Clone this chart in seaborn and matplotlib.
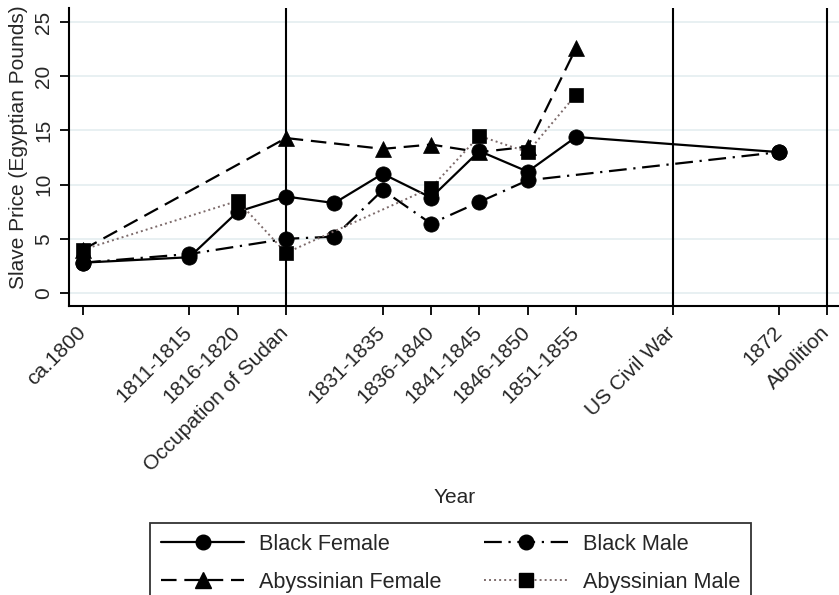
import matplotlib
matplotlib.use("Agg")
import matplotlib.pyplot as plt
import matplotlib.transforms as mtransforms
import seaborn as sns
import pandas as pd
from matplotlib.lines import Line2D

# ---- data ----
tick_years = [1800, 1811, 1816, 1821, 1831, 1836, 1841, 1846, 1851, 1861, 1872, 1877]
tick_labels = ["ca.1800", "1811-1815", "1816-1820", "Occupation of Sudan", "1831-1835",
               "1836-1840", "1841-1845", "1846-1850", "1851-1855", "US Civil War",
               "1872", "Abolition"]
event_years = [1821, 1861, 1877]

bf_years = [1800, 1811, 1816, 1821, 1826, 1831, 1836, 1841, 1846, 1851, 1872]
bf_price = [2.8, 3.3, 7.5, 8.9, 8.3, 11.0, 8.8, 13.1, 11.2, 14.4, 13.0]
bm_years = [1800, 1811, 1821, 1826, 1831, 1836, 1841, 1846, 1872]
bm_price = [2.8, 3.6, 5.0, 5.2, 9.5, 6.4, 8.4, 10.4, 13.0]
af_years = [1800, 1821, 1831, 1836, 1841, 1846, 1851]
af_price = [4.0, 14.3, 13.3, 13.7, 13.0, 13.5, 22.6]
am_years = [1800, 1816, 1821, 1836, 1841, 1846, 1851]
am_price = [4.0, 8.5, 3.7, 9.7, 14.5, 13.0, 18.3]

sns.set_theme(style="white")
plt.rcParams["font.family"] = ["Liberation Sans", "DejaVu Sans"]

fig = plt.figure(figsize=(8.39, 5.95), dpi=100)
W, H = 839, 595
left, right, bottom, top = 69, 839, 306, 8
ax = fig.add_axes([left / W, 1 - bottom / H, (right - left) / W, (bottom - top) / H])

# gridlines
for yv in [0, 5, 10, 15, 20, 25]:
    ax.axhline(yv, color="#e4edf0", lw=1.2, zorder=0)
for ev in event_years:
    ax.axvline(ev, color="black", lw=1.5, zorder=1)

series = [
    ("Black Female", bf_years, bf_price, "o", None),
    ("Black Male", bm_years, bm_price, "o", (8, 3, 1, 3)),
    ("Abyssinian Female", af_years, af_price, "^", (7, 3.5)),
    ("Abyssinian Male", am_years, am_price, "s", (1, 1.6)),
]

handles = {}
for name, xs, ys, mk, dash in series:
    df = pd.DataFrame({"year": xs, "price": ys})
    lc = "#7d6b6b" if mk == "s" else "black"
    lw = 1.4 if mk == "s" else 1.6
    ms = {"o": 11, "^": 11.5, "s": 10.5}[mk]
    sns.lineplot(data=df, x="year", y="price", ax=ax, color=lc, lw=lw, marker=mk,
                 markersize=ms, markerfacecolor="black",
                 markeredgecolor="black", markeredgewidth=0.5, errorbar=None, zorder=3)
    ln = ax.lines[-1]
    if dash is not None:
        ln.set_dashes(dash)
    h = Line2D([0], [0], color=lc, lw=lw, marker=mk, markersize=ms - 0.5,
               markerfacecolor="black", markeredgecolor="black")
    if dash is not None:
        h.set_dashes(dash)
    handles[name] = h

ax.set_xlim(1798.55, 1878.2)
ax.set_ylim(-1.2, 26.3)
ax.set_xticks(tick_years)
ax.set_xticklabels(tick_labels, rotation=45, ha="right", rotation_mode="anchor")
ax.set_yticks([0, 5, 10, 15, 20, 25])
ax.set_yticklabels(["0", "5", "10", "15", "20", "25"], rotation=90, va="center")
ax.tick_params(axis="both", which="major", labelsize=15, length=6.5, width=1.3,
               color="black", direction="out", bottom=True, left=True, pad=5)
offset = mtransforms.ScaledTranslation(-0.07, -0.01, fig.dpi_scale_trans)
for lab in ax.get_xticklabels():
    lab.set_transform(lab.get_transform() + offset)
for s in ["top", "right"]:
    ax.spines[s].set_visible(False)
for s in ["left", "bottom"]:
    ax.spines[s].set_color("black")
    ax.spines[s].set_linewidth(1.5)

ax.set_xlabel("Year", fontsize=15)
ax.xaxis.set_label_coords((455 - left) / (right - left), -(488 - bottom) / (bottom - top))
ax.set_ylabel("")
fig.text(19 / W, 1 - 147 / H, "Slave Price (Egyptian Pounds)", rotation=90,
         ha="center", va="center", fontsize=15)

order = ["Black Female", "Abyssinian Female", "Black Male", "Abyssinian Male"]
leg = fig.legend([handles[k] for k in order], order, ncol=2, loc="upper left",
                 bbox_to_anchor=(150 / W, 1 - 523 / H), fontsize=15.6,
                 handlelength=3.85, handletextpad=0.7, columnspacing=1.95,
                 labelspacing=0.77, borderpad=0.5, borderaxespad=0, frameon=True,
                 fancybox=False)
leg.get_frame().set_edgecolor("black")
leg.get_frame().set_linewidth(1.3)

fig.savefig("out.png", dpi=100)
